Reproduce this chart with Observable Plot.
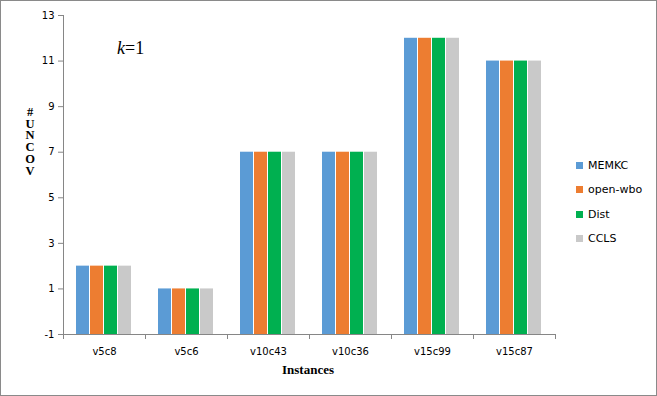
<!DOCTYPE html>
<html>
<head>
<meta charset="utf-8">
<script src="https://cdn.jsdelivr.net/npm/d3@7"></script>
<script src="https://cdn.jsdelivr.net/npm/@observablehq/plot@0.6"></script>
<style>
  html, body { margin: 0; padding: 0; background: #fff; }
  #wrap { position: relative; width: 657px; height: 396px; overflow: hidden; }
  #border { position: absolute; left: 0; top: 0; width: 655px; height: 394px; border: 1px solid #8a8a8a; pointer-events: none; }
  .ov { position: absolute; color: #000; }
  #ytitle { left: 23px; top: 105px; width: 14px; font: bold 12.5px "Liberation Serif", "DejaVu Serif", serif; writing-mode: vertical-rl; text-orientation: upright; letter-spacing: -2.3px; line-height: 14px; }
  #xtitle { left: 258px; top: 362px; width: 100px; text-align: center; font: bold 13px "Liberation Serif", "DejaVu Serif", serif; }
  #klabel { left: 117px; top: 38px; font: 18px "Liberation Serif", "DejaVu Serif", serif; }
  #legend { left: 576px; top: 153px; font: 11px "DejaVu Sans", Verdana, sans-serif; }
  #legend div { height: 24.5px; display: flex; align-items: center; }
  #legend span.sw { display: inline-block; width: 7px; height: 7px; margin-right: 5px; }
</style>
</head>
<body>
<div id="wrap">
  <div id="chart"></div>
  <div class="ov" id="ytitle"></div>
  <div class="ov" id="xtitle">Instances</div>
  <div class="ov" id="klabel"><i>k</i>=1</div>
  <div class="ov" id="legend"></div>
  <div id="border"></div>
</div>
<script>
const categories = ["v5c8", "v5c6", "v10c43", "v10c36", "v15c99", "v15c87"];
const seriesNames = ["MEMKC", "open-wbo", "Dist", "CCLS"];
const seriesColors = ["#5B9BD5", "#ED7D31", "#00B050", "#C9C9C9"];
const memkc   = [2, 1, 7, 7, 12, 11];
const openwbo = [2, 1, 7, 7, 12, 11];
const dist    = [2, 1, 7, 7, 12, 11];
const ccls    = [2, 1, 7, 7, 12, 11];
const yTicks = [-1, 1, 3, 5, 7, 9, 11, 13];
const yTitle = "#UNCOV";

const seriesValues = [memkc, openwbo, dist, ccls];
const rows = [];
categories.forEach((c, i) => {
  seriesNames.forEach((s, j) => rows.push({cat: c, series: s, value: seriesValues[j][i]}));
});

const W = 657, H = 396, ML = 63, MR = 102, MT = 15, MB = 62;
const half = (W - ML - MR) / categories.length / 2;
const axisColor = "#868686";
const font = '"DejaVu Sans", Verdana, sans-serif';

const plot = Plot.plot({
  width: W, height: H,
  marginLeft: ML, marginRight: MR, marginTop: MT, marginBottom: MB,
  style: {fontFamily: font, fontSize: "10px", color: "#000", background: "#fff"},
  fx: {domain: categories, padding: 0, label: null},
  x: {domain: seriesNames, paddingInner: 0.067, paddingOuter: 0.767, axis: null},
  y: {domain: [-1, 13], label: null},
  color: {domain: seriesNames, range: seriesColors},
  marks: [
    Plot.barY(rows, {fx: "cat", x: "series", y1: -1, y2: "value", fill: "series"}),
    Plot.ruleY([-1], {stroke: axisColor, strokeWidth: 1}),
    Plot.axisY({ticks: yTicks, tickFormat: d => String(d), tickSize: 5, tickPadding: 4, stroke: axisColor, fill: "#000", label: null, fontSize: 10}),
    Plot.frame({anchor: "left", facet: "super", stroke: axisColor}),
    Plot.axisFx({anchor: "bottom", tickSize: 0, tickPadding: 13, label: null, fontSize: 10, fill: "#000"}),
    Plot.axisFx({anchor: "bottom", tickSize: 5, tickFormat: () => "", label: null, dx: -half, stroke: axisColor}),
    Plot.axisFx({anchor: "bottom", ticks: [categories[categories.length - 1]], tickSize: 5, tickFormat: () => "", label: null, dx: half, stroke: axisColor})
  ]
});
document.getElementById("chart").appendChild(plot);

document.getElementById("ytitle").textContent = yTitle;

const legend = document.getElementById("legend");
seriesNames.forEach((s, j) => {
  const row = document.createElement("div");
  const sw = document.createElement("span");
  sw.className = "sw";
  sw.style.background = seriesColors[j];
  row.appendChild(sw);
  row.appendChild(document.createTextNode(s));
  legend.appendChild(row);
});
</script>
</body>
</html>
